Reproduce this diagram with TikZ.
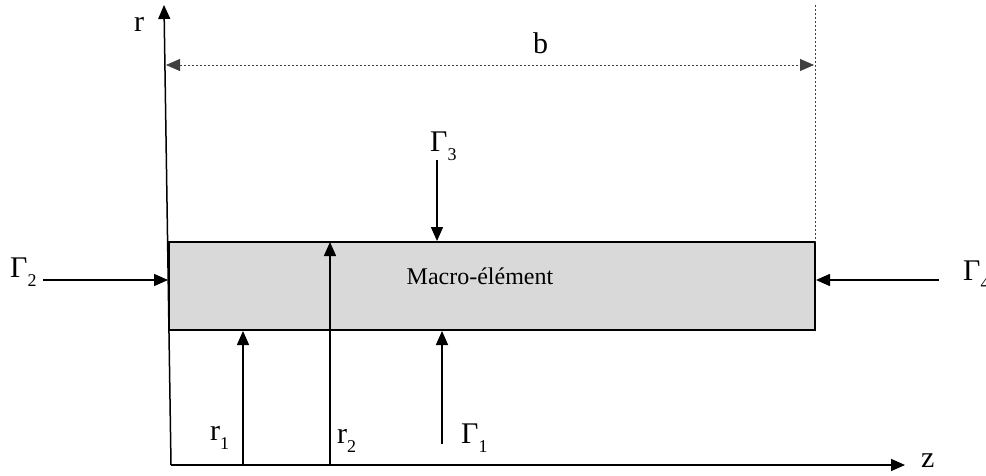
\documentclass[tikz,border=0pt]{standalone}
\usepackage{fontspec}
\setmainfont{Liberation Serif}
\usetikzlibrary{arrows.meta}
\definecolor{boxgray}{HTML}{D9D9D9}
\newcommand\lsub[1]{\raisebox{-9pt}{\fontsize{18}{18}\selectfont #1}}
\begin{document}
\begin{tikzpicture}[x=1pt,y=-1pt,
  lbl/.style={inner sep=0pt, anchor=base west, font=\fontsize{30}{30}\selectfont},
  arr/.style={line width=1.5pt, -{Triangle[length=14pt,width=12pt]}},
  dotline/.style={line width=0.8pt, dash pattern=on 2pt off 2pt, black!75}]
\useasboundingbox (0,0) rectangle (986,476);
% axes
\coordinate (O) at (171,465);
\coordinate (rtop) at (164,5);
\coordinate (ztip) at (905,465);
\draw[arr] (O) -- (rtop);
\draw[arr] (O) -- (ztip);
\node[lbl] (rlab) at (134,32) {r};
\node[lbl] (zlab) at (921,467) {z};
% box
\node[draw, line width=1.5pt, fill=boxgray, minimum width=646pt, minimum height=88pt,
      inner sep=0pt] (box) at (492,286) {};
\node[inner sep=0pt, anchor=base, font=\fontsize{24}{24}\selectfont] (macro) at (480,284) {Macro-élément};
% b dimension
\coordinate (vtop) at (815,5);
\coordinate (vbot) at (815,242);
\draw[dotline] (vtop) -- (vbot);
\coordinate (bl) at (166,65);
\coordinate (br) at (814,65);
\draw[dotline, {Triangle[length=14pt,width=12pt]}-{Triangle[length=14pt,width=12pt]}] (bl) -- (br);
\node[lbl] (blab) at (533,54) {b};
% Gamma 2
\node[lbl] (g2) at (10,277) {Γ\lsub{2}};
\coordinate (g2s) at (43,280);
\coordinate (g2e) at (168,280);
\draw[arr] (g2s) -- (g2e);
% Gamma 4
\node[lbl] (g4) at (963,280) {Γ\lsub{4}};
\coordinate (g4s) at (939,280);
\coordinate (g4e) at (816,280);
\draw[arr] (g4s) -- (g4e);
% Gamma 3
\node[lbl] (g3) at (430,152) {Γ\lsub{3}};
\coordinate (g3s) at (437,160);
\coordinate (g3e) at (437,241);
\draw[arr] (g3s) -- (g3e);
% Gamma 1
\node[lbl] (g1) at (461,443) {Γ\lsub{1}};
\coordinate (g1s) at (442,444);
\coordinate (g1e) at (442,331);
\draw[arr] (g1s) -- (g1e);
% r1, r2
\coordinate (r1s) at (243,465);
\coordinate (r1e) at (243,331);
\draw[arr] (r1s) -- (r1e);
\node[lbl] (r1lab) at (210,440) {r\lsub{1}};
\coordinate (r2s) at (330,465);
\coordinate (r2e) at (330,242);
\draw[arr] (r2s) -- (r2e);
\node[lbl] (r2lab) at (337,443) {r\lsub{2}};
\end{tikzpicture}
\end{document}
